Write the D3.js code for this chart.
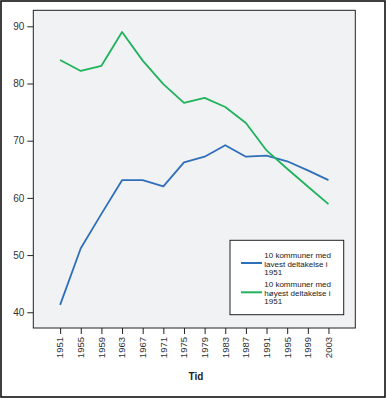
<!DOCTYPE html>
<html>
<head>
<meta charset="utf-8">
<script src="https://cdn.jsdelivr.net/npm/d3@7"></script>
<style>
  body { margin: 0; background: #fff; }
  text { font-family: "Liberation Sans", Arial, sans-serif; }
</style>
</head>
<body>
<div id="viz"></div>
<script>
const width = 386;
const height = 398;
const plot = {left: 33.3, top: 10.3, right: 355.3, bottom: 328};

// Data
const years = [1951, 1955, 1959, 1963, 1967, 1971, 1975, 1979, 1983, 1987, 1991, 1995, 1999, 2003];
const lowest = [41.3, 51.2, 57.2, 63.1, 63.1, 62.0, 66.2, 67.2, 69.2, 67.2, 67.4, 66.4, 64.8, 63.1];
const highest = [84.1, 82.2, 83.1, 89.0, 84.0, 79.9, 76.6, 77.5, 75.9, 73.1, 68.3, 65.1, 62.0, 58.9];
const yTicks = [40, 50, 60, 70, 80, 90];
const seriesNames = [
  ['10 kommuner med', 'lavest deltakelse i', '1951'],
  ['10 kommuner med', 'høyest deltakelse i', '1951']
];
const colors = ['#2e6fba', '#20b25c'];
const xTitle = 'Tid';

const svg = d3.select('#viz')
  .append('svg')
    .attr('width', width)
    .attr('height', height);

// outer frame
svg.append('rect')
  .attr('x', 1).attr('y', 1)
  .attr('width', width - 2).attr('height', height - 2)
  .attr('fill', '#fff')
  .attr('stroke', '#111')
  .attr('stroke-width', 1.6);

// plot background
svg.append('rect')
  .attr('x', plot.left).attr('y', plot.top)
  .attr('width', plot.right - plot.left).attr('height', plot.bottom - plot.top)
  .attr('fill', '#f1f2f4')
  .attr('stroke', '#222')
  .attr('stroke-width', 1);

const xScale = d3.scalePoint()
  .domain(years)
  .range([plot.left, plot.right])
  .padding(1.3);

const yScale = d3.scaleLinear()
  .domain([37.25, 92.8])
  .range([plot.bottom, plot.top]);

const yAxis = svg.append('g')
  .attr('transform', `translate(${plot.left}, 0)`)
  .call(d3.axisLeft(yScale).tickValues(yTicks).tickSize(6).tickPadding(3));
yAxis.select('.domain').remove();
yAxis.selectAll('line').attr('stroke', '#222');
yAxis.selectAll('text')
  .attr('fill', '#333')
  .style('font-size', '10px')
  .style('font-family', '"Liberation Sans", Arial, sans-serif');

const xAxis = svg.append('g')
  .attr('transform', `translate(0, ${plot.bottom})`)
  .call(d3.axisBottom(xScale).tickSize(6).tickPadding(3));
xAxis.select('.domain').remove();
xAxis.selectAll('line').attr('stroke', '#222');
xAxis.selectAll('text')
  .attr('transform', 'rotate(-90)')
  .attr('x', -9)
  .attr('y', 0)
  .attr('dy', '0.3em')
  .attr('text-anchor', 'end')
  .attr('fill', '#333')
  .style('font-size', '9.5px')
  .style('font-family', '"Liberation Sans", Arial, sans-serif');

svg.append('text')
  .attr('x', 196)
  .attr('y', 380)
  .attr('text-anchor', 'middle')
  .style('font-size', '10px')
  .style('font-weight', 'bold')
  .attr('fill', '#222')
  .text(xTitle);

const line = d3.line()
  .x((d, i) => xScale(years[i]))
  .y(d => yScale(d));

[lowest, highest].forEach((s, k) => {
  svg.append('path')
    .attr('d', line(s))
    .attr('fill', 'none')
    .attr('stroke', colors[k])
    .attr('stroke-width', 1.8)
    .attr('stroke-linejoin', 'round');
});

// legend
const legend = svg.append('g');
legend.append('rect')
  .attr('x', 230).attr('y', 240.3)
  .attr('width', 113.7).attr('height', 74.4)
  .attr('fill', '#fff')
  .attr('stroke', '#222')
  .attr('stroke-width', 1);

seriesNames.forEach((lines, k) => {
  const top = 258 + k * 29.3;
  legend.append('line')
    .attr('x1', 241).attr('x2', 262)
    .attr('y1', top + 5).attr('y2', top + 5)
    .attr('stroke', colors[k])
    .attr('stroke-width', 2);
  lines.forEach((t, j) => {
    legend.append('text')
      .attr('x', 264.3)
      .attr('y', top + j * 8.5)
      .style('font-size', '8px')
      .attr('fill', '#222')
      .text(t);
  });
});
</script>
</body>
</html>
